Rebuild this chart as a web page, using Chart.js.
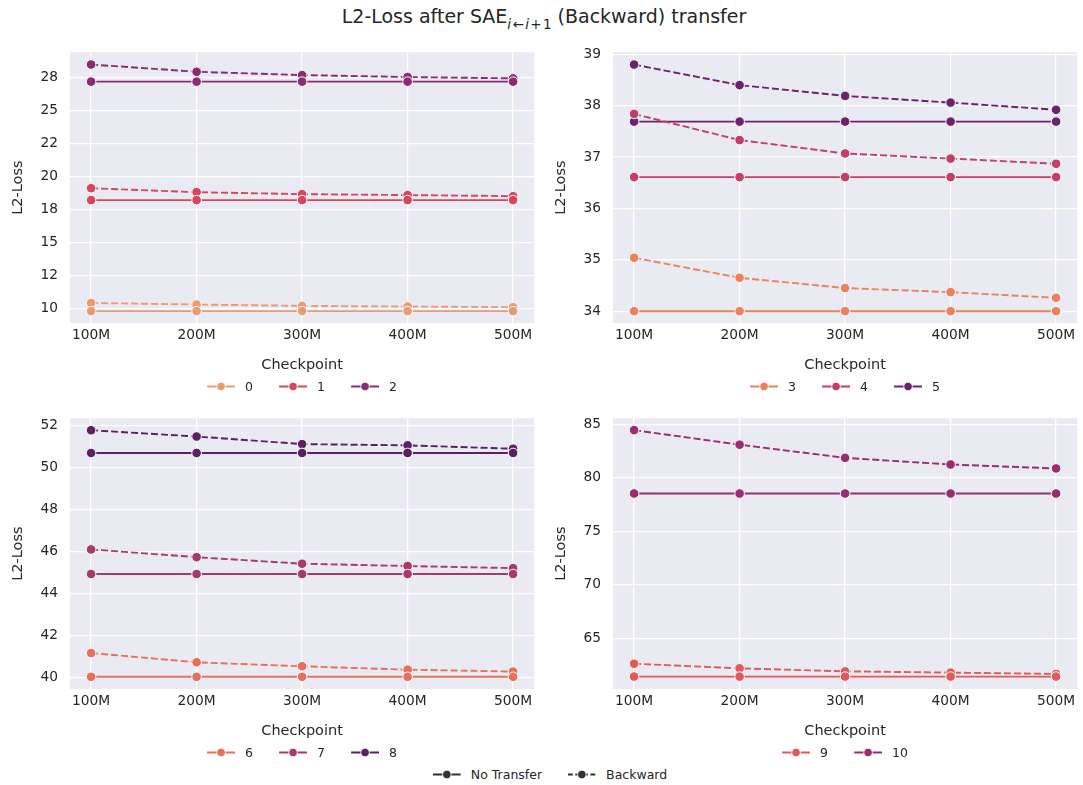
<!DOCTYPE html>
<html lang="en">
<head>
<meta charset="UTF-8">
<title>L2-Loss after SAE Backward transfer</title>
<style>
    body {
        margin: 0;
        background: #fff;
        font-family: "DejaVu Sans", sans-serif;
        color: #262626;
    }
    .page {
        position: relative;
        width: 1083px;
        height: 785px;
    }
    .title {
        position: absolute;
        top: 5px;
        left: 544px;
        transform: translateX(-50%);
        font-size: 19px;
        white-space: nowrap;
    }
    .title sub {
        font-size: 13.5px;
        position: relative;
        top: 1px;
    }
    .panel {
        position: absolute;
    }
    .legend {
        position: absolute;
        display: flex;
        align-items: center;
        gap: 26px;
        font-size: 12.5px;
        transform: translate(-50%, -50%);
        white-space: nowrap;
    }
    .legend .item {
        display: flex;
        align-items: center;
        gap: 10px;
    }
</style>
<script src="https://cdn.jsdelivr.net/npm/chart.js"></script>
</head>
<body>
<div class="page">
    <div class="title">L2-Loss after SAE<sub><i>i</i>&#8202;&#8592;&#8202;<i>i</i>&#8202;+&#8202;1</sub> (Backward) transfer</div>

    <canvas class="panel" id="c0" width="540" height="348" style="left:0;top:32px"></canvas>
    <canvas class="panel" id="c1" width="540" height="348" style="left:543px;top:32px"></canvas>
    <canvas class="panel" id="c2" width="540" height="348" style="left:0;top:398px"></canvas>
    <canvas class="panel" id="c3" width="540" height="348" style="left:543px;top:398px"></canvas>

    <div class="legend" id="lg0" style="left:302px;top:386px"></div>
    <div class="legend" id="lg1" style="left:845px;top:386px"></div>
    <div class="legend" id="lg2" style="left:302px;top:752px"></div>
    <div class="legend" id="lg3" style="left:845px;top:752px"></div>

    <div class="legend" id="lgStyle" style="left:550px;top:774px"></div>
</div>

<script>
// x categories
const checkpoints = ['100M', '200M', '300M', '400M', '500M'];
const layers = ['0', '1', '2', '3', '4', '5', '6', '7', '8', '9', '10'];

// L2-loss without transfer, per layer
const noTransfer0 = [9.80, 9.80, 9.80, 9.80, 9.80];
const noTransfer1 = [18.22, 18.22, 18.22, 18.22, 18.22];
const noTransfer2 = [27.20, 27.20, 27.20, 27.20, 27.20];
const noTransfer3 = [34.00, 34.00, 34.00, 34.00, 34.00];
const noTransfer4 = [36.61, 36.61, 36.61, 36.61, 36.61];
const noTransfer5 = [37.69, 37.69, 37.69, 37.69, 37.69];
const noTransfer6 = [40.05, 40.05, 40.05, 40.05, 40.05];
const noTransfer7 = [44.94, 44.94, 44.94, 44.94, 44.94];
const noTransfer8 = [50.70, 50.70, 50.70, 50.70, 50.70];
const noTransfer9 = [61.42, 61.42, 61.42, 61.42, 61.42];
const noTransfer10 = [78.52, 78.52, 78.52, 78.52, 78.52];

// L2-loss after backward transfer, per layer
const backward0 = [10.42, 10.30, 10.20, 10.15, 10.10];
const backward1 = [19.12, 18.82, 18.67, 18.60, 18.52];
const backward2 = [28.50, 27.95, 27.70, 27.55, 27.45];
const backward3 = [35.04, 34.65, 34.45, 34.37, 34.26];
const backward4 = [37.84, 37.33, 37.07, 36.97, 36.87];
const backward5 = [38.80, 38.40, 38.19, 38.06, 37.92];
const backward6 = [41.18, 40.74, 40.55, 40.39, 40.30];
const backward7 = [46.11, 45.74, 45.43, 45.32, 45.22];
const backward8 = [51.78, 51.48, 51.12, 51.06, 50.90];
const backward9 = [62.62, 62.19, 61.91, 61.79, 61.67];
const backward10 = [84.44, 83.08, 81.85, 81.23, 80.86];

const noTransfer = [noTransfer0, noTransfer1, noTransfer2, noTransfer3, noTransfer4, noTransfer5,
    noTransfer6, noTransfer7, noTransfer8, noTransfer9, noTransfer10];
const backward = [backward0, backward1, backward2, backward3, backward4, backward5,
    backward6, backward7, backward8, backward9, backward10];

// y tick values and their printed labels, per panel
const yTicks0 = [10, 12.5, 15, 17.5, 20, 22.5, 25, 27.5];
const yLabels0 = ['10', '12', '15', '18', '20', '22', '25', '28'];
const yTicks1 = [34, 35, 36, 37, 38, 39];
const yLabels1 = ['34', '35', '36', '37', '38', '39'];
const yTicks2 = [40, 42, 44, 46, 48, 50, 52];
const yLabels2 = ['40', '42', '44', '46', '48', '50', '52'];
const yTicks3 = [65, 70, 75, 80, 85];
const yLabels3 = ['65', '70', '75', '80', '85'];

const layerColors = ['#eb9b74', '#d6475d', '#8a2c73', '#e9825f', '#c43f68', '#6b2369',
    '#e6705b', '#a9386e', '#5a2162', '#de5a5b', '#982e70'];

const textColor = '#262626';
const fontFamily = '"DejaVu Sans", sans-serif';

// fill the axes background like seaborn darkgrid
const axesBackground = {
    id: 'axesBackground',
    beforeDraw(chart) {
        const a = chart.chartArea;
        const ctx = chart.ctx;
        ctx.save();
        ctx.fillStyle = '#eaeaf2';
        ctx.fillRect(a.left, a.top, a.right - a.left, a.bottom - a.top);
        ctx.restore();
    }
};

function markerSvg(color, dashed) {
    const dash = dashed ? 'stroke-dasharray="5 2.5"' : '';
    return '<svg width="28" height="12" viewBox="0 0 28 12">' +
        '<line x1="0" y1="6" x2="28" y2="6" stroke="' + color + '" stroke-width="1.9" ' + dash + '/>' +
        '<circle cx="14" cy="6" r="4.3" fill="' + color + '" stroke="#fff" stroke-width="0.9"/></svg>';
}

function makePanel(id, layerIdx, yTicks, yLabels, yMin, yMax) {
    const datasets = [];
    layerIdx.forEach(l => {
        const common = {
            borderColor: layerColors[l],
            backgroundColor: layerColors[l],
            borderWidth: 1.9,
            pointRadius: 4.8,
            pointHoverRadius: 4.8,
            pointBorderColor: '#ffffff',
            pointBorderWidth: 1,
            tension: 0
        };
        datasets.push(Object.assign({
            label: layers[l] + ' No Transfer',
            data: noTransfer[l].map((v, i) => ({x: i, y: v}))
        }, common));
        datasets.push(Object.assign({
            label: layers[l] + ' Backward',
            data: backward[l].map((v, i) => ({x: i, y: v})),
            borderDash: [7, 3]
        }, common));
    });

    new Chart(document.getElementById('c' + id), {
        type: 'line',
        data: {datasets: datasets},
        options: {
            responsive: false,
            animation: false,
            layout: {padding: {top: 1, right: 5, left: 0, bottom: 0}},
            plugins: {
                legend: {display: false},
                tooltip: {enabled: false}
            },
            scales: {
                x: {
                    type: 'linear',
                    min: -0.2,
                    max: 4.2,
                    afterBuildTicks: s => { s.ticks = checkpoints.map((c, i) => ({value: i})); },
                    afterFit: s => { s.height = 57; },
                    ticks: {
                        callback: (v, i) => checkpoints[i],
                        color: textColor,
                        font: {family: fontFamily, size: 13.75},
                        padding: 4,
                        maxRotation: 0
                    },
                    grid: {color: '#ffffff', lineWidth: 1.25, drawTicks: false},
                    border: {display: false},
                    title: {
                        display: true,
                        text: 'Checkpoint',
                        color: textColor,
                        font: {family: fontFamily, size: 14.5},
                        padding: {top: 8, bottom: 6}
                    }
                },
                y: {
                    min: yMin,
                    max: yMax,
                    afterBuildTicks: s => { s.ticks = yTicks.map(v => ({value: v})); },
                    afterFit: s => { s.width = 70; },
                    ticks: {
                        callback: (v, i) => yLabels[i],
                        color: textColor,
                        font: {family: fontFamily, size: 13.75},
                        padding: 12
                    },
                    grid: {color: '#ffffff', lineWidth: 1.25, drawTicks: false},
                    border: {display: false},
                    title: {
                        display: true,
                        text: 'L2-Loss',
                        color: textColor,
                        font: {family: fontFamily, size: 14.5},
                        padding: {top: 10, bottom: 4}
                    }
                }
            }
        },
        plugins: [axesBackground]
    });

    // legend under the panel, one entry per layer
    const lg = document.getElementById('lg' + id);
    lg.innerHTML = layerIdx.map(l =>
        '<span class="item">' + markerSvg(layerColors[l], false) + '<span>' + layers[l] + '</span></span>'
    ).join('');
}

makePanel(0, [0, 1, 2], yTicks0, yLabels0, 8.9, 29.43);
makePanel(1, [3, 4, 5], yTicks1, yLabels1, 33.77, 39.04);
makePanel(2, [6, 7, 8], yTicks2, yLabels2, 39.47, 52.35);
makePanel(3, [9, 10], yTicks3, yLabels3, 60.26, 85.55);

// shared style legend
document.getElementById('lgStyle').innerHTML =
    '<span class="item">' + markerSvg('#333333', false) + '<span>No Transfer</span></span>' +
    '<span class="item">' + markerSvg('#333333', true) + '<span>Backward</span></span>';
</script>
</body>
</html>
